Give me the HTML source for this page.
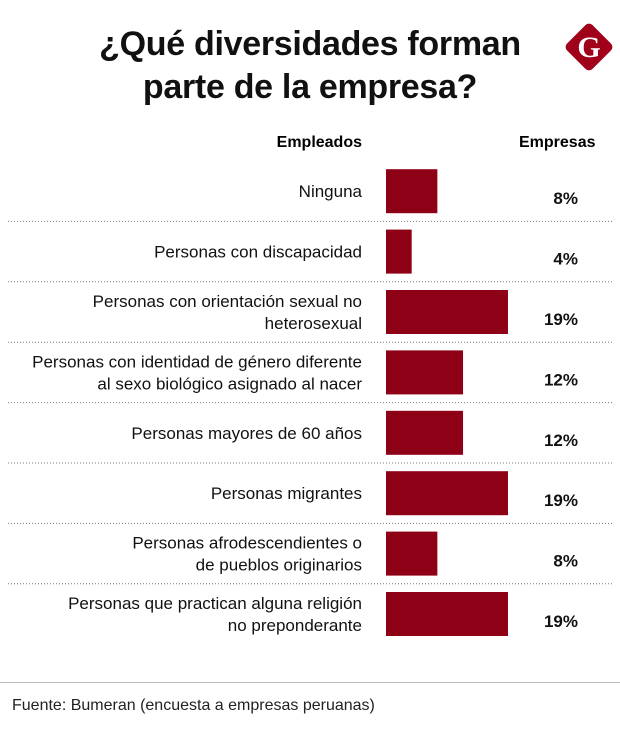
<!DOCTYPE html>
<html><head><meta charset="utf-8"><style>
body{margin:0;background:#fff;font-family:"Liberation Sans",sans-serif;}
#wrap{position:relative;width:620px;height:745px;overflow:hidden;}
.t{position:absolute;white-space:nowrap;}
</style></head><body>
<div id="wrap">
<div class="t" style="left:0;width:620px;top:23px;text-align:center;font-weight:bold;font-size:34px;line-height:43px;color:#111;letter-spacing:-0.3px">¿Qué diversidades forman<br>parte de la empresa?</div>
<svg style="position:absolute;left:560px;top:18px" width="58" height="58" viewBox="0 0 58 58"><rect x="11" y="11" width="36" height="36" rx="5" transform="rotate(45 29 29)" fill="#a0001a"/><text x="29" y="39" text-anchor="middle" font-family="Liberation Serif" font-weight="bold" font-size="30" fill="#fff">G</text></svg>
<div class="t" style="right:258px;top:134px;font-weight:bold;font-size:16px">Empleados</div>
<div class="t" style="left:519px;top:134px;font-weight:bold;font-size:16px">Empresas</div>
<svg id="plot" style="position:absolute;left:0;top:0" width="620" height="745"></svg>
<div style="position:absolute;left:0;top:682px;width:620px;height:1px;background:#bbb"></div>
<div class="t" style="left:12px;top:697px;font-size:16px;color:#222">Fuente: Bumeran (encuesta a empresas peruanas)</div>
</div>
<script>
const categories=[["Ninguna"],["Personas con discapacidad"],["Personas con orientación sexual no","heterosexual"],["Personas con identidad de género diferente","al sexo biológico asignado al nacer"],["Personas mayores de 60 años"],["Personas migrantes"],["Personas afrodescendientes o","de pueblos originarios"],["Personas que practican alguna religión","no preponderante"]];
const values=[8,4,19,12,12,19,8,19];
const svg=document.getElementById('plot');
const NS='http://www.w3.org/2000/svg';
const x0=386,pxPer=6.42,rowTop=161,rowH=60.4,barH=44;
const xs=v=>v*pxPer;
const yc=i=>rowTop+rowH*i+rowH/2;
categories.forEach((lines,i)=>{
  const c=yc(i);
  const r=document.createElementNS(NS,'rect');
  r.setAttribute('x',x0);r.setAttribute('y',c-barH/2);r.setAttribute('width',xs(values[i]));r.setAttribute('height',barH);r.setAttribute('fill','#8e0015');
  
  
  svg.appendChild(r);
  const t=document.createElementNS(NS,'text');
  t.setAttribute('x',362);t.setAttribute('text-anchor','end');t.setAttribute('font-size','17');t.setAttribute('fill','#111');t.setAttribute('font-family','Liberation Sans');
  lines.forEach((ln,j)=>{const s=document.createElementNS(NS,'tspan');s.setAttribute('x',362);s.setAttribute('y',c+6+(j-(lines.length-1)/2)*22);s.textContent=ln;t.appendChild(s);});
  
  
  svg.appendChild(t);
  const p=document.createElementNS(NS,'text');
  p.setAttribute('x',578);p.setAttribute('y',c+13);p.setAttribute('text-anchor','end');p.setAttribute('font-size','17');p.setAttribute('font-weight','bold');p.setAttribute('font-family','Liberation Sans');p.setAttribute('fill','#111');
  p.textContent=values[i]+'%';
  
  
  svg.appendChild(p);
  if(i<categories.length-1){
    const l=document.createElementNS(NS,'line');
    const y=rowTop+rowH*(i+1);
    l.setAttribute('x1',8);l.setAttribute('x2',612);l.setAttribute('y1',y);l.setAttribute('y2',y);l.setAttribute('stroke','#777');l.setAttribute('stroke-dasharray','1 2');
    
    
    svg.appendChild(l);
  }
});
</script>
</body></html>
